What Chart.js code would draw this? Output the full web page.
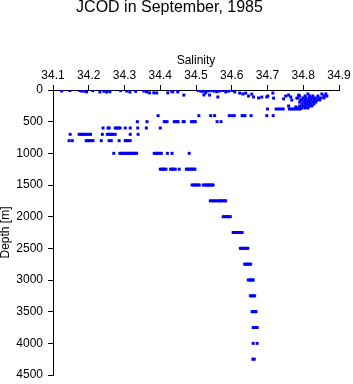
<!DOCTYPE html>
<html>
<head>
<meta charset="utf-8">
<script src="https://cdn.jsdelivr.net/npm/chart.js@4"></script>
<style>
  html, body { margin: 0; padding: 0; background: #fff; }
</style>
</head>
<body>
<canvas id="jcodChart" width="353" height="384"></canvas>
<script>
// upper layer (0-300 m), depth varies point by point
const upperSal = [34.124, 34.147, 34.175, 34.180, 34.186, 34.194, 34.211, 34.231, 34.242, 34.250,
    34.259, 34.289, 34.306, 34.315, 34.331, 34.354, 34.362, 34.370, 34.382, 34.390,
    34.421, 34.432, 34.435, 34.449, 34.449, 34.466, 34.505, 34.513, 34.519, 34.524,
    34.533, 34.541, 34.550, 34.558, 34.527, 34.522, 34.538, 34.561, 34.566, 34.575,
    34.583, 34.591, 34.600, 34.608, 34.622, 34.631, 34.639, 34.647, 34.656, 34.661,
    34.675, 34.684, 34.698, 34.701, 34.715, 34.717, 34.745, 34.751, 34.759, 34.765,
    34.768, 34.782, 34.787, 34.793, 34.759, 34.779,
    34.813, 34.852, 34.863,
    34.790, 34.805, 34.818, 34.827, 34.841, 34.858, 34.866,
    34.785, 34.799, 34.807, 34.816, 34.824, 34.832, 34.841, 34.849, 34.858,
    34.796, 34.805, 34.813, 34.821, 34.830, 34.838, 34.846,
    34.790, 34.802, 34.810, 34.818, 34.827, 34.835,
    34.796, 34.805, 34.813, 34.821, 34.830,
    34.790, 34.799, 34.807, 34.816, 34.824,
    34.785, 34.796, 34.805, 34.813];
const upperDepth = [15, 8, 8, 16, 18, 30, 10, 30, 18, 32,
    28, 10, 16, 32, 20, 16, 30, 45, 45, 47,
    45, 18, 30, 8, 30, 80, 6, 18, 20, 8,
    16, 10, 18, 28, 45, 78, 80, 110, 16, 8,
    30, 18, 8, 30, 48, 62, 50, 95, 65, 110,
    125, 112, 110, 95, 48, 128, 140, 95, 80, 110,
    158, 128, 80, 158, 253, 268,
    63, 63, 63,
    95, 95, 95, 95, 95, 95, 95,
    126, 126, 126, 126, 126, 126, 126, 126, 126,
    158, 158, 158, 158, 158, 158, 158,
    190, 190, 190, 190, 190, 190,
    221, 221, 221, 221, 221,
    253, 253, 253, 253, 253,
    284, 284, 284, 284];

// sampled levels below that
const levelDepths = [300, 405, 500, 600, 700, 800, 1000, 1250, 1500, 1750, 2000,
    2250, 2500, 2750, 3000, 3250, 3500, 3750, 4000, 4250];
const levelSal = [
    [34.700, 34.724, 34.731, 34.738, 34.744, 34.761, 34.767, 34.773, 34.779, 34.785, 34.791],
    [34.394, 34.508, 34.541, 34.552, 34.593, 34.600, 34.607, 34.629, 34.633, 34.637, 34.654, 34.698, 34.716],
    [34.336, 34.363, 34.411, 34.415, 34.419, 34.439, 34.443, 34.447, 34.450, 34.464, 34.467, 34.487, 34.491, 34.495, 34.498, 34.559, 34.570],
    [34.240, 34.254, 34.257, 34.274, 34.279, 34.283, 34.288, 34.302, 34.316, 34.337, 34.361, 34.400],
    [34.148, 34.173, 34.177, 34.181, 34.185, 34.190, 34.195, 34.200, 34.205, 34.238, 34.252, 34.256, 34.260, 34.264, 34.268, 34.274, 34.316, 34.338],
    [34.145, 34.154, 34.193, 34.197, 34.201, 34.205, 34.212, 34.235, 34.257, 34.263, 34.285, 34.302, 34.306, 34.310, 34.316],
    [34.270, 34.287, 34.291, 34.295, 34.299, 34.303, 34.307, 34.311, 34.315, 34.319, 34.323, 34.327, 34.331, 34.334, 34.383, 34.387, 34.391, 34.395, 34.399, 34.403, 34.420, 34.433, 34.481],
    [34.400, 34.404, 34.408, 34.412, 34.416, 34.429, 34.433, 34.437, 34.442, 34.453, 34.473, 34.477, 34.481, 34.485, 34.489, 34.493, 34.497],
    [34.489, 34.493, 34.497, 34.501, 34.505, 34.509, 34.520, 34.524, 34.528, 34.532, 34.536, 34.540, 34.544, 34.548],
    [34.540, 34.545, 34.550, 34.555, 34.562, 34.566, 34.570, 34.575, 34.580, 34.583],
    [34.576, 34.580, 34.584, 34.588, 34.592, 34.596],
    [34.604, 34.608, 34.612, 34.616, 34.620, 34.624, 34.629],
    [34.624, 34.628, 34.632, 34.636, 34.640, 34.645],
    [34.636, 34.640, 34.644, 34.648, 34.653],
    [34.646, 34.650, 34.654, 34.657, 34.660],
    [34.652, 34.656, 34.660, 34.664],
    [34.657, 34.661, 34.665, 34.668],
    [34.660, 34.664, 34.668, 34.671],
    [34.660, 34.671],
    [34.659, 34.663]
];

const points = upperSal.map((s, i) => ({ x: s, y: upperDepth[i] }));
levelDepths.forEach((d, i) => {
    levelSal[i].forEach(s => points.push({ x: s, y: d }));
});

const font = "'Liberation Sans', Arial, Helvetica, sans-serif";

// keep the plot box where the reference has it
function noScalePadding(s) {
    s.paddingTop = 0;
    s.paddingBottom = 0;
    s.paddingLeft = 0;
    s.paddingRight = 0;
}

new Chart(document.getElementById('jcodChart'), {
    type: 'scatter',
    data: {
        datasets: [{
            data: points,
            pointStyle: 'rect',
            pointRadius: 2.1,
            pointBorderWidth: 0,
            backgroundColor: 'rgb(0, 0, 255)',
            borderColor: 'rgb(0, 0, 255)'
        }]
    },
    options: {
        responsive: false,
        animation: false,
        layout: { padding: { top: 0, left: 0, right: 14, bottom: 9 } },
        plugins: {
            legend: { display: false },
            tooltip: { enabled: false },
            title: {
                display: true,
                text: 'JCOD in September, 1985',
                color: '#000',
                font: { family: font, size: 16, weight: 'normal', lineHeight: 1 },
                padding: { top: 0, bottom: 30 }
            }
        },
        scales: {
            x: {
                type: 'linear',
                position: 'top',
                min: 34.1,
                max: 34.9,
                afterFit: s => { s.height = 44; noScalePadding(s); },
                ticks: {
                    stepSize: 0.1,
                    callback: v => v.toFixed(1),
                    color: '#000',
                    font: { family: font, size: 12 },
                    padding: 2,
                    maxRotation: 0,
                    autoSkip: false
                },
                grid: { drawOnChartArea: false, tickLength: 5, color: '#000' },
                border: { display: true, color: '#000' },
                title: {
                    display: true,
                    text: 'Salinity',
                    color: '#000',
                    font: { family: font, size: 12, lineHeight: 1 },
                    padding: { top: 9, bottom: 0 }
                }
            },
            y: {
                type: 'linear',
                reverse: true,
                min: 0,
                max: 4500,
                afterFit: s => { s.width = 53; noScalePadding(s); },
                ticks: {
                    stepSize: 500,
                    callback: v => String(v),
                    color: '#000',
                    font: { family: font, size: 12 },
                    padding: 5
                },
                grid: { drawOnChartArea: false, tickLength: 5, color: '#000' },
                border: { display: true, color: '#000' },
                title: {
                    display: true,
                    text: 'Depth [m]',
                    color: '#000',
                    font: { family: font, size: 12, lineHeight: 1 },
                    padding: 0
                }
            }
        }
    }
});
</script>
</body>
</html>
